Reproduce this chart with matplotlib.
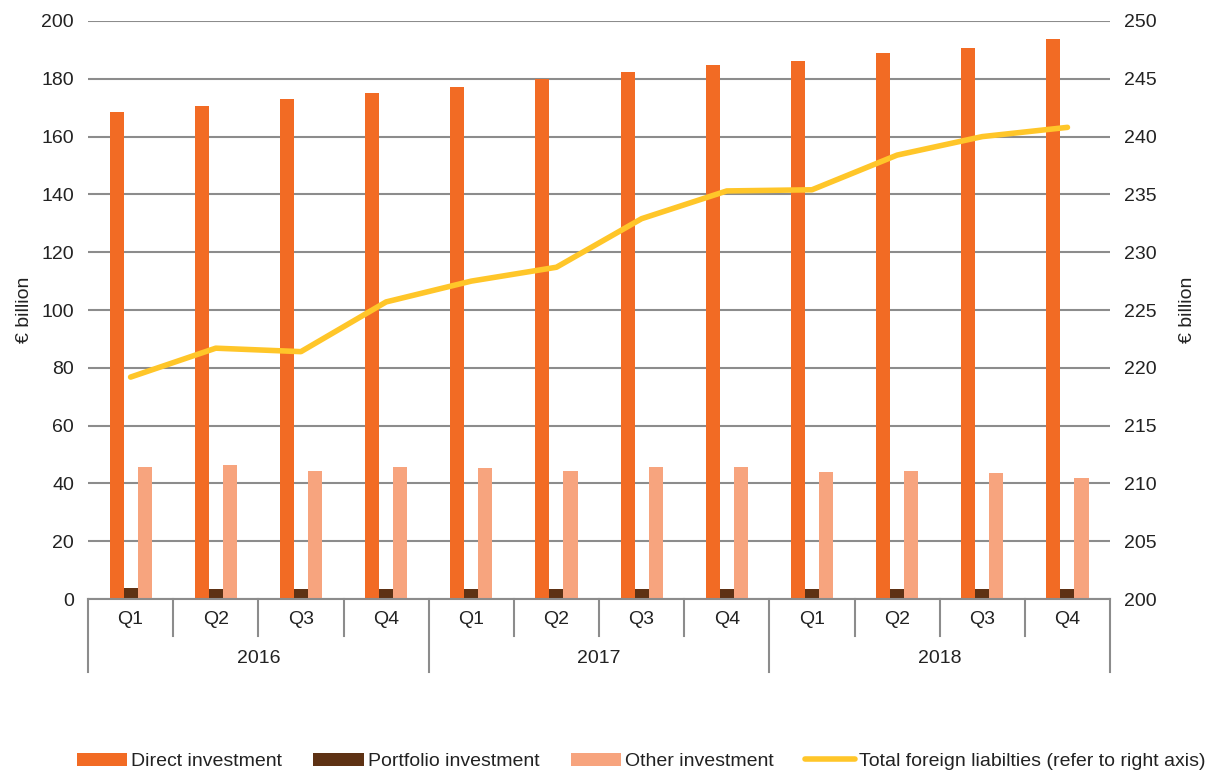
import matplotlib.pyplot as plt
import numpy as np

plt.rcParams["font.family"] = ["Liberation Sans", "DejaVu Sans"]

quarters = ["Q1", "Q2", "Q3", "Q4"] * 3
years = ["2016", "2017", "2018"]

direct = [168.5, 170.7, 172.9, 175.2, 177.3, 179.8, 182.3, 184.7, 186.3, 188.9, 190.5, 193.6]
portfolio = [3.9, 3.5, 3.5, 3.5, 3.4, 3.5, 3.5, 3.5, 3.6, 3.6, 3.6, 3.6]
other = [45.8, 46.3, 44.3, 45.8, 45.5, 44.3, 45.8, 45.8, 44.0, 44.3, 43.7, 41.8]
total = [219.2, 221.7, 221.4, 225.7, 227.5, 228.7, 232.9, 235.3, 235.4, 238.4, 240.0, 240.8]

C_DIRECT = "#F26B24"
C_PORT = "#5E3214"
C_OTHER = "#F7A47E"
C_TOTAL = "#FFC629"
GRID = "#8C8C8C"
TXT = "#222222"
FS = 14

fig = plt.figure(figsize=(12.24, 7.77), dpi=100)
ax = fig.add_axes([0.0719, 0.229, 0.835, 0.744])
ax2 = ax.twinx()

x = np.arange(len(direct))
w = 0.165
ax.bar(x - w, direct, w, color=C_DIRECT, label="Direct investment", zorder=2)
ax.bar(x, portfolio, w, color=C_PORT, label="Portfolio investment", zorder=2)
ax.bar(x + w, other, w, color=C_OTHER, label="Other investment", zorder=2)
ax2.plot(x, total, color=C_TOTAL, lw=4, solid_capstyle="round",
         label="Total foreign liabilties (refer to right axis)", zorder=3)

ax.set_xlim(-0.5, 11.5)
ax.set_ylim(0, 200)
ax2.set_ylim(200, 250)
ax.set_yticks(range(0, 201, 20))
ax2.set_yticks(range(200, 251, 5))
ax.yaxis.grid(True, color=GRID, lw=1.5)
ax.set_axisbelow(True)

for a in (ax, ax2):
    for s in a.spines.values():
        s.set_visible(False)
    a.tick_params(axis="y", length=0, labelsize=FS, colors=TXT, pad=10)
ax.set_xticks([])
ax.set_ylabel("€ billion", fontsize=FS, color=TXT, labelpad=6)
ax2.set_ylabel("€ billion", fontsize=FS, color=TXT, labelpad=16)

# multi-level category axis
tr = ax.get_xaxis_transform()
ax.plot([-0.5, 11.5], [0, 0], color=GRID, lw=1.5, transform=tr, clip_on=False)
for b in np.arange(-0.5, 12, 1):
    low = -0.126 if (b + 0.5) % 4 == 0 else -0.064
    ax.plot([b, b], [0, low], color=GRID, lw=1.5, transform=tr, clip_on=False)
for i, q in enumerate(quarters):
    ax.text(i, -0.036, q, transform=tr, ha="center", va="center", fontsize=FS, color=TXT)
for j, yr in enumerate(years):
    ax.text(j * 4 + 1.5, -0.102, yr, transform=tr, ha="center", va="center", fontsize=FS, color=TXT)

h1, l1 = ax.get_legend_handles_labels()
h2, l2 = ax2.get_legend_handles_labels()
fig.legend(h1 + h2, l1 + l2, loc="center", bbox_to_anchor=(0.524, 0.02), ncol=4,
           frameon=False, fontsize=14, handlelength=2.6, handleheight=0.65,
           handletextpad=0.2, columnspacing=1.6, labelcolor=TXT)

fig.savefig("out.png", dpi=100)
